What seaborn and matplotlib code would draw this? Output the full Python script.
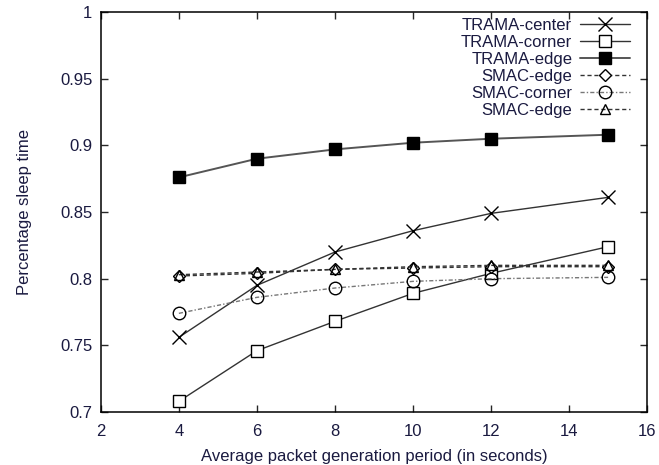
import numpy as np
import pandas as pd
import matplotlib
matplotlib.use("Agg")
import matplotlib.pyplot as plt
import seaborn as sns

# values
periods = [4, 6, 8, 10, 12, 15]
trama_center = [0.756, 0.795, 0.820, 0.836, 0.849, 0.861]
trama_corner = [0.708, 0.746, 0.768, 0.789, 0.804, 0.824]
trama_edge = [0.876, 0.890, 0.897, 0.902, 0.905, 0.908]
smac_edge = [0.802, 0.804, 0.807, 0.808, 0.809, 0.809]
smac_corner = [0.774, 0.786, 0.793, 0.798, 0.800, 0.801]
smac_edge2 = [0.803, 0.805, 0.807, 0.809, 0.810, 0.810]

labels = ["TRAMA-center", "TRAMA-corner", "TRAMA-edge",
          "SMAC-edge", "SMAC-corner", "SMAC-edge"]
series = [trama_center, trama_corner, trama_edge,
          smac_edge, smac_corner, smac_edge2]

# (marker, markersize, facecolor, linestyle, linecolor, linewidth)
styles = [
    ("x", 10, "none", "-", "#333333", 1.0),
    ("s", 9, "white", "-", "#333333", 1.0),
    ("s", 9, "black", "-", "#555555", 1.4),
    ("D", 6, "white", (0, (3, 2)), "#333333", 1.0),
    ("o", 9, "none", (0, (3, 1.5, 1, 1.5)), "#777777", 1.0),
    ("^", 7, "none", (0, (3, 2)), "#333333", 1.0),
]

sns.set_style("ticks")
plt.rcParams['font.family'] = ['Liberation Sans', 'DejaVu Sans']
plt.rcParams['text.color'] = '#1a1a40'

fig = plt.figure(figsize=(6.59, 4.65), dpi=100)
ax = fig.add_axes([0.153, 0.114, 0.829, 0.860])

for lab, vals, st in zip(labels, series, styles):
    marker, ms, fc, ls, lc, lw = st
    df = pd.DataFrame({"period": periods, "sleep": vals})
    sns.lineplot(data=df, x="period", y="sleep", ax=ax, label=lab,
                 marker=marker, markersize=ms, markerfacecolor=fc,
                 markeredgecolor="black", markeredgewidth=1.0,
                 linestyle=ls, color=lc, linewidth=lw)

ax.set_xlim(2, 16)
ax.set_ylim(0.7, 1.0)
ax.set_xticks(np.arange(2, 17, 2))
ax.set_yticks([0.7, 0.75, 0.8, 0.85, 0.9, 0.95, 1.0])
ax.set_yticklabels(["0.7", "0.75", "0.8", "0.85", "0.9", "0.95", "1"])
ax.tick_params(direction="in", top=True, right=True, length=5, width=1,
               labelsize=12, labelcolor="#1a1a40", pad=6)
ax.tick_params(axis="x", pad=9)
for sp in ax.spines.values():
    sp.set_linewidth(1.1)
    sp.set_color("black")

ax.set_xlabel("Average packet generation period (in seconds)", fontsize=12,
              color="#1a1a40", labelpad=7)
ax.set_ylabel("Percentage sleep time", fontsize=12, color="#1a1a40",
              labelpad=20)

leg = ax.legend(loc="upper right", bbox_to_anchor=(1.0, 1.028),
                frameon=False, markerfirst=False,
                fontsize=12, handlelength=3.0, labelspacing=0.12,
                borderaxespad=0.6, handletextpad=0.5)

fig.savefig("out.png", dpi=100)
